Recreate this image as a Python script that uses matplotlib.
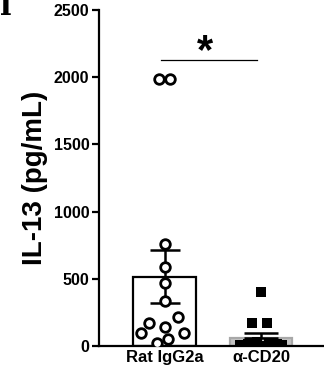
import matplotlib
matplotlib.use("Agg")
import matplotlib.pyplot as plt
import numpy as np

plt.rcParams['font.family'] = ['Liberation Sans', 'DejaVu Sans']

categories = ["Rat IgG2a", "\u03b1-CD20"]
means = [516, 62]
sems = [195, 32]

igg_values = [1990, 1990, 759, 590, 471, 337, 213, 169, 144, 99, 94, 50, 20]
igg_offsets = [-0.057, 0.057, 0.0, 0.0, 0.0, 0.0, 0.14, -0.16, 0.0, -0.24, 0.2, 0.04, -0.08]

cd20_values = [400, 169, 169, 28, 22, 18, 12, 8, 5, 2, 0]
cd20_offsets = [0.0, -0.09, 0.06, -0.04, 0.08, -0.14, 0.16, -0.22, 0.22, 0.0, -0.06]

yticks = [0, 500, 1000, 1500, 2000, 2500]

fig = plt.figure(figsize=(3.24, 3.79), dpi=100)
ax = fig.add_axes([0.3056, 0.0871, 0.6914, 0.8865])

x = np.arange(len(categories))
ax.bar(x[0], means[0], width=0.65, color='white', edgecolor='black', linewidth=1.6, zorder=2)
ax.bar(x[1], means[1], width=0.65, color='#c4c4c4', edgecolor='#a8a8a8', linewidth=1.6, zorder=2)

ax.errorbar(x[0], means[0], yerr=sems[0], fmt='none', ecolor='black', elinewidth=1.8,
            capsize=11, capthick=1.8, zorder=3)
ax.errorbar(x[1], means[1], yerr=[[0], [sems[1]]], fmt='none', ecolor='black', elinewidth=1.8,
            capsize=12, capthick=1.8, zorder=3)

ax.scatter(x[0] + np.array(igg_offsets), igg_values, s=48, marker='o', facecolors='white',
           edgecolors='black', linewidths=2.0, zorder=4)
ax.scatter(x[1] + np.array(cd20_offsets), cd20_values, s=42, marker='s', color='black',
           linewidths=0, zorder=4)

# significance bar
ax.plot([-0.036, 0.96], [2128, 2128], color='black', linewidth=0.9, clip_on=False)
ax.text(0.42, 2040, '*', ha='center', va='bottom', fontsize=30, fontweight='bold')

ax.set_xlim(-0.679, 1.642)
ax.set_ylim(0, 2500)
ax.set_yticks(yticks)
ax.set_yticklabels([str(t) for t in yticks], fontsize=11.5, fontweight='bold')
ax.set_xticks(x)
ax.set_xticklabels(categories, fontsize=12, fontweight='bold')
ax.tick_params(axis='x', length=0, pad=3)
ax.tick_params(axis='y', length=5, width=1.6, pad=2)
ax.spines['top'].set_visible(False)
ax.spines['right'].set_visible(False)
ax.spines['left'].set_linewidth(1.6)
ax.spines['bottom'].set_linewidth(1.6)

ax.set_ylabel('IL-13 (pg/mL)', fontsize=20, fontweight='bold', labelpad=4)

fig.text(0.0185, 0.960, 'i', family='DejaVu Serif', fontweight='bold', fontsize=22,
         ha='center', va='baseline')

fig.savefig('out.png', dpi=100)
